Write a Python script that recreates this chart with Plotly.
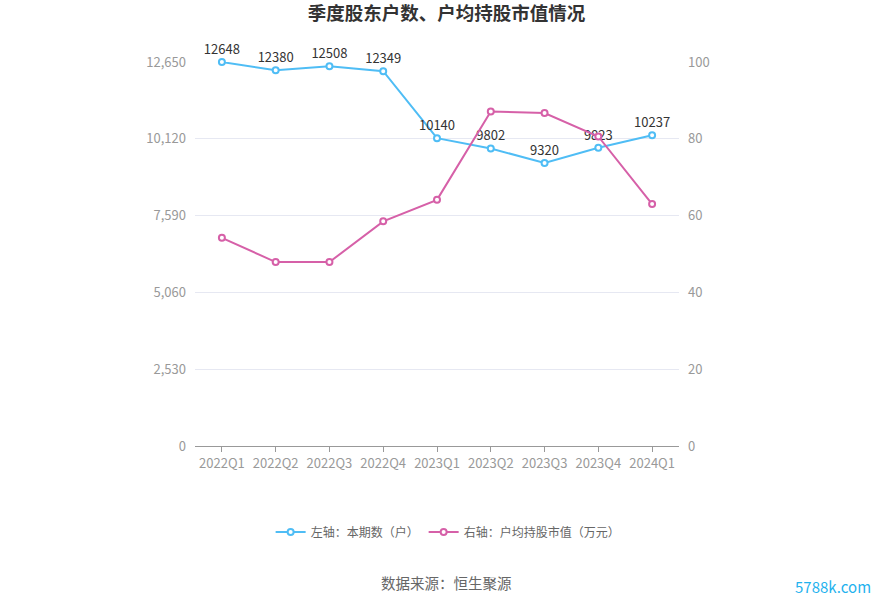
import plotly.graph_objects as go

categories = ["2022Q1", "2022Q2", "2022Q3", "2022Q4", "2023Q1", "2023Q2", "2023Q3", "2023Q4", "2024Q1"]
holders = [12648, 12380, 12508, 12349, 10140, 9802, 9320, 9823, 10237]
avg_value = [54.2, 47.9, 47.9, 58.5, 64.1, 87.1, 86.7, 80.6, 63.0]
left_ticks = [0, 2530, 5060, 7590, 10120, 12650]
right_ticks = [0, 20, 40, 60, 80, 100]

BLUE = "#4fbdf5"
PINK = "#d660a8"
FONT = "Noto Sans CJK SC"

fig = go.Figure()
fig.add_trace(go.Scatter(
    x=categories, y=holders, name="左轴：本期数（户）",
    mode="lines+markers+text",
    line=dict(color=BLUE, width=2),
    marker=dict(symbol="circle", size=6, color="white", line=dict(color=BLUE, width=2)),
    text=[str(v) for v in holders], textposition="top center",
    textfont=dict(size=13, color="#333333", family=FONT),
    cliponaxis=False,
))
fig.add_trace(go.Scatter(
    x=categories, y=avg_value, name="右轴：户均持股市值（万元）",
    mode="lines+markers", yaxis="y2",
    line=dict(color=PINK, width=2),
    marker=dict(symbol="circle", size=6, color="white", line=dict(color=PINK, width=2)),
    cliponaxis=False,
))

fig.update_layout(
    width=893, height=603,
    margin=dict(l=195, r=214, t=62, b=157),
    paper_bgcolor="white", plot_bgcolor="white",
    font=dict(family=FONT, color="#999999", size=13),
    title=dict(text="<b>季度股东户数、户均持股市值情况</b>", x=0.5, xanchor="center",
               y=0.977, yanchor="middle", font=dict(size=18.5, color="#333333", family=FONT)),
    xaxis=dict(
        type="category", range=[-0.5, 8.5],
        showline=True, linecolor="#999999", linewidth=1,
        ticks="outside", ticklen=5, tickcolor="#999999",
        showgrid=False, tickfont=dict(size=13, color="#999999"),
    ),
    yaxis=dict(
        range=[0, 12650], tickvals=left_ticks,
        ticktext=[f"{v:,}" for v in left_ticks],
        showgrid=True, gridcolor="#e6e8f2", gridwidth=1,
        zeroline=False, showline=False, ticks="", ticklabelstandoff=8,
        tickfont=dict(size=13, color="#999999"),
    ),
    yaxis2=dict(
        range=[0, 100], tickvals=right_ticks, overlaying="y", side="right",
        showgrid=False, zeroline=False, showline=False, ticks="", ticklabelstandoff=8,
        tickfont=dict(size=13, color="#999999"),
    ),
    legend=dict(orientation="h", x=0.523, xanchor="center", y=-0.224, yanchor="middle",
                font=dict(size=12, color="#666666", family=FONT), itemwidth=30),
    showlegend=True,
    annotations=[
        dict(text="数据来源：恒生聚源", xref="paper", yref="paper", x=0.5196, xanchor="center",
             y=-0.355, yanchor="middle", showarrow=False,
             font=dict(size=14.5, color="#666666", family=FONT)),
        dict(text="5788k.com", xref="paper", yref="paper", x=1.4, xanchor="right",
             y=-0.365, yanchor="middle", showarrow=False,
             font=dict(size=15, color="#1fb2ee", family=FONT)),
    ],
)

fig.write_html("out.html")
